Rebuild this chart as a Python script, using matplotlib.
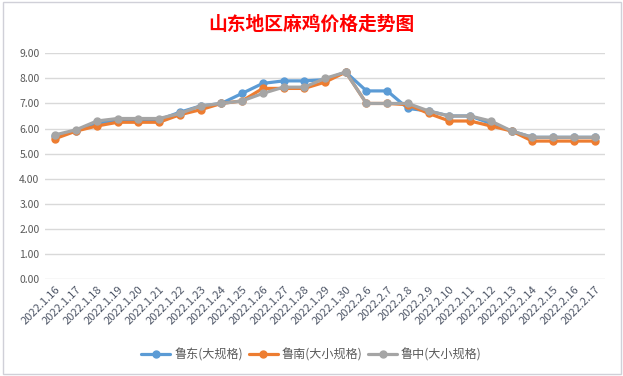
import matplotlib.pyplot as plt
from matplotlib.patches import Rectangle

plt.rcParams['font.family'] = ['Noto Sans CJK SC', 'DejaVu Sans']

dates = ['2022.1.16', '2022.1.17', '2022.1.18', '2022.1.19', '2022.1.20',
         '2022.1.21', '2022.1.22', '2022.1.23', '2022.1.24', '2022.1.25',
         '2022.1.26', '2022.1.27', '2022.1.28', '2022.1.29', '2022.1.30',
         '2022.2.6', '2022.2.7', '2022.2.8', '2022.2.9', '2022.2.10',
         '2022.2.11', '2022.2.12', '2022.2.13', '2022.2.14', '2022.2.15',
         '2022.2.16', '2022.2.17']
ludong = [5.7, 5.9, 6.2, 6.35, 6.35, 6.35, 6.65, 6.9, 7.0, 7.4, 7.8, 7.9,
          7.9, 7.95, 8.25, 7.5, 7.5, 6.8, 6.7, 6.5, 6.5, 6.2, 5.9, 5.65,
          5.65, 5.65, 5.65]
lunan = [5.6, 5.9, 6.1, 6.25, 6.25, 6.25, 6.55, 6.75, 7.0, 7.1, 7.6, 7.6,
         7.6, 7.85, 8.25, 7.0, 7.0, 6.95, 6.6, 6.3, 6.3, 6.1, 5.9, 5.5,
         5.5, 5.5, 5.5]
luzhong = [5.75, 5.95, 6.3, 6.4, 6.4, 6.4, 6.6, 6.9, 7.0, 7.1, 7.4, 7.65,
           7.65, 8.0, 8.25, 7.0, 7.0, 7.0, 6.7, 6.5, 6.5, 6.3, 5.9, 5.65,
           5.65, 5.65, 5.65]
names = ['鲁东(大规格)', '鲁南(大小规格)', '鲁中(大小规格)']
colors = ['#5B9BD5', '#ED7D31', '#A5A5A5']
yticks = [0, 1, 2, 3, 4, 5, 6, 7, 8, 9]

fig = plt.figure(figsize=(6.23, 3.76), dpi=100)
# chart frame
fig.patches.append(Rectangle((3 / 623, 2 / 376), 618 / 623, 372 / 376,
                             transform=fig.transFigure, fill=False,
                             edgecolor='#D0D0D8', linewidth=1))

ax = fig.add_axes([45 / 623, 1 - 279 / 376, 560 / 623, 225.7 / 376])
x = list(range(len(dates)))
for vals, name, c in zip([ludong, lunan, luzhong], names, colors):
    ax.plot(x, vals, color=c, linewidth=2.3, marker='o', markersize=5,
            label=name, solid_capstyle='round')

ax.set_xlim(-0.5, len(dates) - 0.5)
ax.set_ylim(0, 9)
ax.set_yticks(yticks)
ax.set_yticklabels(['%.2f' % v for v in yticks], color='#595959', fontsize=7.5)
ax.set_xticks(x)
ax.set_xticklabels(dates, rotation=45, ha='right', rotation_mode='anchor',
                   color='#4D5566', fontsize=8)
ax.tick_params(length=0, pad=4)
ax.grid(axis='y', color='#D9D9D9', linewidth=1)
ax.set_axisbelow(True)
for s in ax.spines.values():
    s.set_visible(False)

fig.text(0.5, 1 - 24 / 376, '山东地区麻鸡价格走势图', color='red',
         fontsize=13.5, fontweight='bold', ha='center', va='center')

fig.legend(loc='center', bbox_to_anchor=(0.5, 1 - 355 / 376), ncol=3,
           frameon=False, fontsize=8.7, labelcolor='#595959',
           handlelength=2.4, columnspacing=0.5, handletextpad=0.3)

fig.savefig('out.png', dpi=100)
